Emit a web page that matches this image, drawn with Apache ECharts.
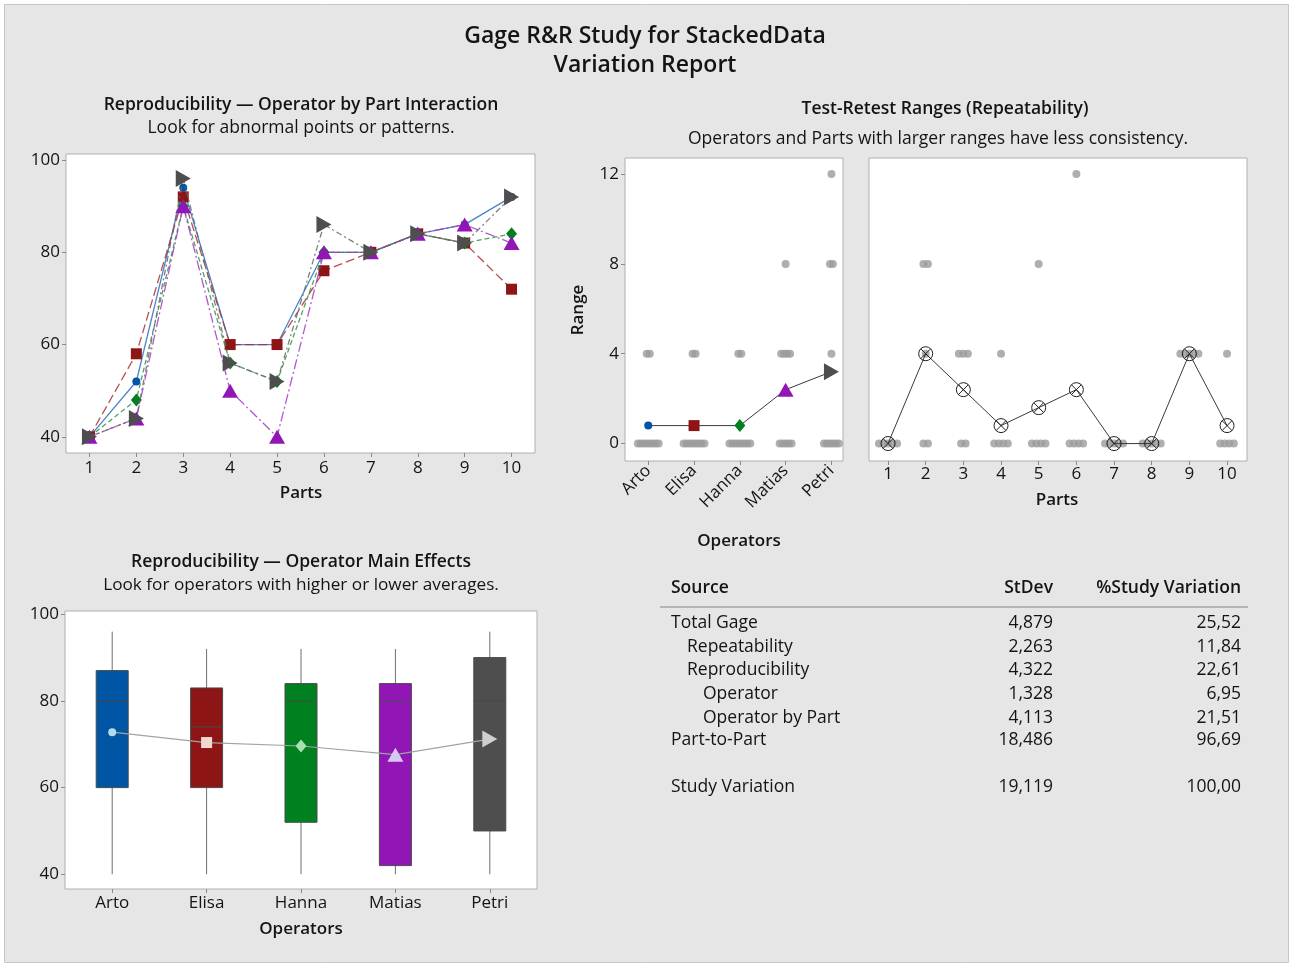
<!DOCTYPE html>
<html>
<head>
<meta charset="utf-8">
<title>Gage R&amp;R Study for StackedData</title>
<script src="https://cdn.jsdelivr.net/npm/echarts@6/dist/echarts.min.js"></script>
<style>
  html, body { margin: 0; padding: 0; background: #ffffff; }
  #chart { width: 1290px; height: 965px; }
</style>
</head>
<body>
<div id="chart"></div>
<script>
// ---- data ----
const operators = ['Arto', 'Elisa', 'Hanna', 'Matias', 'Petri'];
const parts = [1, 2, 3, 4, 5, 6, 7, 8, 9, 10];

// average measurement for each operator on each part
const artoAvg   = [40, 52, 94, 60, 60, 80, 80, 84, 86, 92];
const elisaAvg  = [40, 58, 92, 60, 60, 76, 80, 84, 82, 72];
const hannaAvg  = [40, 48, 90, 56, 52, 80, 80, 84, 82, 84];
const matiasAvg = [40, 44, 90, 50, 40, 80, 80, 84, 86, 82];
const petriAvg  = [40, 44, 96, 56, 52, 86, 80, 84, 82, 92];

// test-retest range for each operator on each part
const artoRange   = [0, 0, 4, 0, 0, 0, 0, 0, 4, 0];
const elisaRange  = [0, 4, 0, 0, 0, 0, 0, 0, 4, 0];
const hannaRange  = [0, 0, 4, 0, 0, 0, 0, 0, 4, 0];
const matiasRange = [0, 8, 4, 4, 0, 0, 0, 0, 4, 4];
const petriRange  = [0, 8, 0, 0, 8, 12, 0, 0, 4, 0];

// mean range per operator and per part
const operatorMeanRange = [0.8, 0.8, 0.8, 2.4, 3.2];
const partMeanRange = [0, 4, 2.4, 0.8, 1.6, 2.4, 0, 0, 4, 0.8];

// operator boxplots: [min, Q1, median, Q3, max]
const artoBox   = [40, 60, 80, 87, 96];
const elisaBox  = [40, 60, 74, 83, 92];
const hannaBox  = [40, 52, 80, 84, 92];
const matiasBox = [40, 42, 80, 84, 92];
const petriBox  = [40, 50, 80, 90, 96];
const operatorMeans = [72.8, 70.4, 69.6, 67.6, 71.2];

// tick labels
const measureTicks = [40, 60, 80, 100];
const rangeTicks = [0, 4, 8, 12];

// variance components table
const tableSources = ['Total Gage', 'Repeatability', 'Reproducibility', 'Operator', 'Operator by Part', 'Part-to-Part', 'Study Variation'];
const tableIndent  = [0, 1, 1, 2, 2, 0, 0];
const tableStDev   = ['4,879', '2,263', '4,322', '1,328', '4,113', '18,486', '19,119'];
const tableStudyVar = ['25,52', '11,84', '22,61', '6,95', '21,51', '96,69', '100,00'];

// ---- styling ----
const FONT = "'Open Sans', 'Noto Sans', sans-serif";
const INK = '#141414';
const TXT = 17.5;

const averages = [artoAvg, elisaAvg, hannaAvg, matiasAvg, petriAvg];
const ranges = [artoRange, elisaRange, hannaRange, matiasRange, petriRange];
const boxes = [artoBox, elisaBox, hannaBox, matiasBox, petriBox];

const opStyle = [
  { color: '#0055a5', line: '#2d6ec0', dash: 'solid',       symbol: 'circle',   size: 8,        rotate: 0,   light: '#b5dbea' },
  { color: '#8e1515', line: '#a83232', dash: [9, 4],        symbol: 'rect',     size: 11,       rotate: 0,   light: '#f1d8d0' },
  { color: '#01801f', line: '#2f9445', dash: [5, 3],        symbol: 'diamond',  size: [11, 13], rotate: 0,   light: '#a7e1b3' },
  { color: '#9215b6', line: '#a53ac4', dash: [10, 3, 2, 3], symbol: 'triangle', size: [16, 14], rotate: 0,   light: '#d7c8f2' },
  { color: '#4e4e4e', line: '#6a6a6a', dash: [6, 3, 2, 3],  symbol: 'triangle', size: [17, 15], rotate: -90, light: '#cfcfcf' }
];

// spread points that share a value side by side around their category
function spread(cat, values, step) {
  const counts = {}, seen = {};
  values.forEach(v => { counts[v] = (counts[v] || 0) + 1; });
  return values.map(v => {
    seen[v] = seen[v] === undefined ? 0 : seen[v] + 1;
    return [cat + (seen[v] - (counts[v] - 1) / 2) * step, v];
  });
}

const tickLabel = { color: INK, fontFamily: FONT, fontSize: 17 };
const tickStyle = { show: true, length: 4, lineStyle: { color: '#8a8a8a' } };

function valueAxis(gridIndex, min, max, ticks, extra) {
  return Object.assign({
    type: 'value', gridIndex, min, max,
    axisLine: { show: false, onZero: false },
    splitLine: { show: false },
    axisTick: Object.assign({ customValues: ticks }, tickStyle),
    axisLabel: Object.assign({ customValues: ticks, margin: 6 }, tickLabel)
  }, extra || {});
}

const series = [];

// interaction plot: operator averages across parts
averages.forEach((vals, i) => {
  const s = opStyle[i];
  series.push({
    name: operators[i], type: 'line', xAxisIndex: 0, yAxisIndex: 0,
    data: parts.map((p, j) => [p, vals[j]]),
    symbol: s.symbol, symbolSize: s.size, symbolRotate: s.rotate,
    itemStyle: { color: s.color, opacity: 1 },
    lineStyle: { color: s.line, width: 1.3, type: s.dash, opacity: 0.85 },
    z: 2 + i
  });
});

// ranges grouped by operator
const rangeByOperatorPts = [];
ranges.forEach((r, i) => { spread(i + 1, r, 0.065).forEach(p => rangeByOperatorPts.push(p)); });
series.push({
  type: 'scatter', xAxisIndex: 1, yAxisIndex: 1, data: rangeByOperatorPts,
  symbol: 'circle', symbolSize: 8, itemStyle: { color: '#9b9b9b' }, z: 2
});
series.push({
  type: 'line', xAxisIndex: 1, yAxisIndex: 1,
  data: operatorMeanRange.map((v, i) => ({
    value: [i + 1, v],
    symbol: opStyle[i].symbol, symbolSize: opStyle[i].size, symbolRotate: opStyle[i].rotate,
    itemStyle: { color: opStyle[i].color }
  })),
  lineStyle: { color: '#3a3a3a', width: 1 }, z: 5
});

// ranges grouped by part
const rangeByPartPts = [];
parts.forEach((p, j) => {
  spread(p, ranges.map(r => r[j]), 0.12).forEach(pt => rangeByPartPts.push(pt));
});
series.push({
  type: 'scatter', xAxisIndex: 2, yAxisIndex: 2, data: rangeByPartPts,
  symbol: 'circle', symbolSize: 8, itemStyle: { color: '#9b9b9b' }, z: 2
});
series.push({
  type: 'line', xAxisIndex: 2, yAxisIndex: 2,
  data: parts.map((p, j) => [p, partMeanRange[j]]),
  symbol: 'path://M10,0A10,10,0,1,1,10,20A10,10,0,1,1,10,0ZM2.93,2.93L17.07,17.07M17.07,2.93L2.93,17.07',
  symbolSize: 14,
  itemStyle: { color: 'rgba(0,0,0,0)', borderColor: '#222222', borderWidth: 1 },
  lineStyle: { color: '#3a3a3a', width: 1 }, z: 5
});

// operator main effects: box with whiskers (no end caps), median line
series.push({
  type: 'custom', xAxisIndex: 3, yAxisIndex: 3,
  data: boxes.map((b, i) => [i].concat(b)),
  encode: { x: 0, y: [1, 2, 3, 4, 5] },
  renderItem: function (params, api) {
    const i = api.value(0);
    const half = 16;
    const pMin = api.coord([i, api.value(1)]);
    const pQ1  = api.coord([i, api.value(2)]);
    const pMed = api.coord([i, api.value(3)]);
    const pQ3  = api.coord([i, api.value(4)]);
    const pMax = api.coord([i, api.value(5)]);
    const x = pQ1[0];
    const whisker = { stroke: '#6f6f6f', lineWidth: 1 };
    return {
      type: 'group',
      children: [
        { type: 'line', shape: { x1: x, y1: pMax[1], x2: x, y2: pQ3[1] }, style: whisker },
        { type: 'line', shape: { x1: x, y1: pQ1[1], x2: x, y2: pMin[1] }, style: whisker },
        { type: 'rect', shape: { x: x - half, y: pQ3[1], width: 2 * half, height: pQ1[1] - pQ3[1] },
          style: { fill: opStyle[i].color, stroke: '#4a4a4a', lineWidth: 1 } },
        { type: 'line', shape: { x1: x - half, y1: pMed[1], x2: x + half, y2: pMed[1] },
          style: { stroke: '#4a4a4a', lineWidth: 1 } }
      ]
    };
  },
  z: 2
});
series.push({
  type: 'line', xAxisIndex: 3, yAxisIndex: 3,
  data: operatorMeans.map((v, i) => ({
    value: v,
    symbol: opStyle[i].symbol, symbolSize: opStyle[i].size, symbolRotate: opStyle[i].rotate,
    itemStyle: { color: opStyle[i].light }
  })),
  lineStyle: { color: '#a3a3a3', width: 1.2 }, z: 5
});

// ---- free text ----
function text(x, y, str, opts) {
  return {
    type: 'text', x, y, z: 10, silent: true,
    style: Object.assign({
      text: str, fill: INK, fontFamily: FONT, fontSize: TXT,
      textAlign: 'center', textVerticalAlign: 'middle'
    }, opts || {})
  };
}

const graphics = [
  { type: 'rect', z: -10, silent: true, shape: { x: 4.5, y: 4.5, width: 1284, height: 958 },
    style: { fill: '#e6e6e6', stroke: '#c6c6c6', lineWidth: 1 } },
  text(645, 36, 'Gage R&R Study for StackedData', { fontSize: 23, fontWeight: 600 }),
  text(645, 65, 'Variation Report', { fontSize: 23, fontWeight: 600 }),

  text(301, 105, 'Reproducibility \u2014 Operator by Part Interaction', { fontWeight: 600 }),
  text(301, 128, 'Look for abnormal points or patterns.'),
  text(301, 493, 'Parts', { fontSize: 17, fontWeight: 600 }),

  text(945, 109, 'Test-Retest Ranges (Repeatability)', { fontWeight: 600 }),
  text(938, 139, 'Operators and Parts with larger ranges have less consistency.'),
  { type: 'text', x: 578, y: 310, rotation: Math.PI / 2, z: 10, silent: true,
    style: { text: 'Range', fill: INK, fontFamily: FONT, fontSize: 17, fontWeight: 600,
             textAlign: 'center', textVerticalAlign: 'middle' } },
  text(739, 541, 'Operators', { fontSize: 17, fontWeight: 600 }),
  text(1057, 500, 'Parts', { fontSize: 17, fontWeight: 600 }),

  text(301, 562, 'Reproducibility \u2014 Operator Main Effects', { fontWeight: 600 }),
  text(301, 585, 'Look for operators with higher or lower averages.', { fontSize: 17.2 }),
  text(301, 929, 'Operators', { fontSize: 17, fontWeight: 600 }),

  text(671, 588, 'Source', { textAlign: 'left', fontWeight: 600 }),
  text(1053, 588, 'StDev', { textAlign: 'right', fontWeight: 600 }),
  text(1241, 588, '%Study Variation', { textAlign: 'right', fontWeight: 600 }),
  { type: 'line', z: 10, silent: true, shape: { x1: 660, y1: 607, x2: 1248, y2: 607 },
    style: { stroke: '#b4b4b4', lineWidth: 2 } }
];
const rowY = [623, 647, 670, 694, 718, 740, 787];
tableSources.forEach((src, k) => {
  graphics.push(text(671 + tableIndent[k] * 16, rowY[k], src, { textAlign: 'left' }));
  graphics.push(text(1053, rowY[k], tableStDev[k], { textAlign: 'right' }));
  graphics.push(text(1241, rowY[k], tableStudyVar[k], { textAlign: 'right' }));
});

const gridStyle = { show: true, backgroundColor: '#ffffff', borderColor: '#b0b0b0', borderWidth: 1 };

const option = {
  animation: false,
  backgroundColor: '#ffffff',
  grid: [
    Object.assign({ left: 66, top: 154, width: 469, height: 299 }, gridStyle),
    Object.assign({ left: 625, top: 158, width: 218, height: 303 }, gridStyle),
    Object.assign({ left: 869, top: 158, width: 378, height: 303 }, gridStyle),
    Object.assign({ left: 65, top: 611, width: 472, height: 278 }, gridStyle)
  ],
  xAxis: [
    valueAxis(0, 0.5, 10.5, parts, { axisLabel: Object.assign({ customValues: parts, margin: 7 }, tickLabel) }),
    valueAxis(1, 0.492, 5.253, [1, 2, 3, 4, 5], {
      axisLabel: Object.assign({
        customValues: [1, 2, 3, 4, 5], margin: 7, rotate: 45,
        formatter: v => operators[Math.round(v) - 1]
      }, tickLabel)
    }),
    valueAxis(2, 0.495, 10.53, parts, { axisLabel: Object.assign({ customValues: parts, margin: 5 }, tickLabel) }),
    {
      type: 'category', gridIndex: 3, data: operators,
      axisLine: { show: false, onZero: false },
      axisTick: Object.assign({ alignWithLabel: true }, tickStyle),
      axisLabel: Object.assign({ margin: 6 }, tickLabel)
    }
  ],
  yAxis: [
    valueAxis(0, 36.5, 101.3, measureTicks),
    valueAxis(1, -0.776, 12.714, rangeTicks),
    valueAxis(2, -0.776, 12.714, rangeTicks, { axisLabel: { show: false }, axisTick: { show: false } }),
    valueAxis(3, 36.6, 100.76, measureTicks)
  ],
  series,
  graphic: graphics
};

const chart = echarts.init(document.getElementById('chart'), null, { renderer: 'canvas' });
chart.setOption(option);
</script>
</body>
</html>
